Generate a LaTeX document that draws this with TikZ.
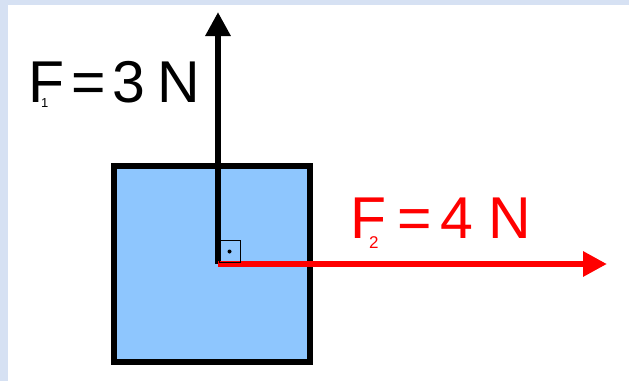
\documentclass[tikz,border=0pt]{standalone}
\usepackage{fontspec}
\setmainfont{Liberation Sans}
\usepackage{tikz}
\usetikzlibrary{arrows.meta,positioning}
\definecolor{framecolor}{RGB}{214,225,243}
\definecolor{blockcolor}{RGB}{142,198,254}
\definecolor{forcecolor}{RGB}{255,0,0}
\tikzset{
blockbody/.style={
  draw=black,
  line width=6pt,
  fill=blockcolor,
  minimum width=196pt,
  minimum height=196pt,
  inner sep=0pt,
  outer sep=0pt
},
forcearrow/.style={
  -{Triangle[length=24pt,width=24pt]},
  line width=6pt
},
forcelabel/.style={
  font=\fontsize{59}{59}\selectfont,
  inner sep=0pt,
  anchor=base west
}
}

\begin{document}
\begin{tikzpicture}[x=1pt, y=-1pt]
  \useasboundingbox (0,0) rectangle (629,381);

  % Frame
  \fill[framecolor] (0,0) rectangle (629,381);
  \fill[white] (8,5) rectangle (629,381);

  % Block
  \node[blockbody] (block) at (212,264) {};

  % Forces
  \coordinate (origin) at (218,264);
  \coordinate (tipone) at (218,12);
  \coordinate (tiptwo) at (607,264);
  \draw[forcearrow, draw=black] (origin) -- (tipone);
  \draw[forcearrow, draw=forcecolor] (origin) -- (tiptwo);

  % Right angle mark
  \draw[black, line width=0.9pt] (219,240) rectangle (240,262);
  \fill[black] (229.5,251.5) circle (2);

  % Labels
  \node[forcelabel] (labelone) at (28,102)
    {\rlap{\kern13pt\raisebox{-5pt}{\fontsize{13}{13}\selectfont 1}}F\kern7pt=\kern7pt3\kern12pt N};
  \node[forcelabel, text=forcecolor] (labeltwo) at (350,238)
    {\rlap{\kern19pt\raisebox{-10pt}{\fontsize{17}{17}\selectfont 2}}F\kern11pt=\kern9pt4\kern15pt N};
\end{tikzpicture}
\end{document}
